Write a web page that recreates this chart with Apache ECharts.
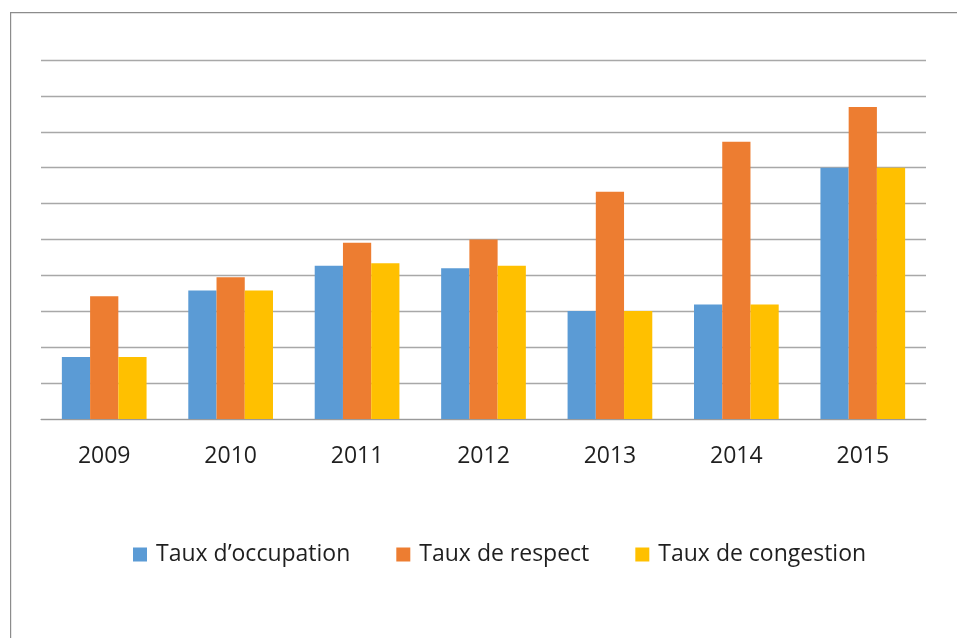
<!DOCTYPE html>
<html>
<head>
<meta charset="utf-8">
<script src="https://cdn.jsdelivr.net/npm/echarts@6/dist/echarts.min.js"></script>
<style>
  html, body { margin: 0; padding: 0; background: #fff; }
  #chart { width: 957px; height: 638px; }
</style>
</head>
<body>
<div id="chart"></div>
<script>
// années (axe des x)
var years = ['2009', '2010', '2011', '2012', '2013', '2014', '2015'];
// valeurs (pas d'étiquettes sur l'axe y, échelle 0-10)
var tauxOccupation = [1.73, 3.58, 4.27, 4.20, 3.01, 3.19, 7.0];
var tauxRespect = [3.42, 3.95, 4.91, 5.0, 6.33, 7.72, 8.69];
var tauxCongestion = [1.73, 3.58, 4.34, 4.27, 3.01, 3.19, 7.0];
var seriesNames = ['Taux d’occupation', 'Taux de respect', 'Taux de congestion'];

var font = '"Open Sans", "Liberation Sans", sans-serif';
var myChart = echarts.init(document.getElementById('chart'));

var option = {
  backgroundColor: '#fff',
  animation: false,
  color: ['#5B9BD5', '#ED7D31', '#FFC000'],
  // cadre autour du graphique
  graphic: [{
    type: 'rect',
    left: 10, top: 12,
    shape: { width: 980, height: 660 },
    style: { fill: 'transparent', stroke: '#8c8c8c', lineWidth: 1.2 },
    silent: true
  }],
  legend: {
    data: seriesNames,
    left: 128,
    top: 538,
    itemWidth: 14,
    itemHeight: 14,
    itemGap: 46,
    icon: 'rect',
    textStyle: {
      fontFamily: font,
      fontSize: 23,
      color: '#1f1f1f',
      padding: [0, 0, 0, 4]
    }
  },
  grid: { left: 41, right: 31, top: 60, bottom: 219 },
  xAxis: {
    type: 'category',
    data: years,
    axisLine: { lineStyle: { color: '#9a9a9a', width: 1.2 } },
    axisTick: { length: 8, lineStyle: { color: '#9a9a9a', width: 1.2 } },
    axisLabel: {
      fontFamily: font,
      fontSize: 23,
      color: '#1f1f1f',
      margin: 26
    }
  },
  yAxis: {
    type: 'value',
    min: 0, max: 10, interval: 1,
    axisLine: { show: false },
    axisTick: { show: false },
    axisLabel: { show: false },
    splitLine: { lineStyle: { color: '#a8a8a8', width: 1.3 } }
  },
  series: [
    {
      name: seriesNames[0], type: 'bar', data: tauxOccupation,
      barGap: '0%', barCategoryGap: '33%'
    },
    {
      name: seriesNames[1], type: 'bar', data: tauxRespect,
      barGap: '0%', barCategoryGap: '33%'
    },
    {
      name: seriesNames[2], type: 'bar', data: tauxCongestion,
      barGap: '0%', barCategoryGap: '33%'
    }
  ]
};
myChart.setOption(option);
</script>
</body>
</html>
